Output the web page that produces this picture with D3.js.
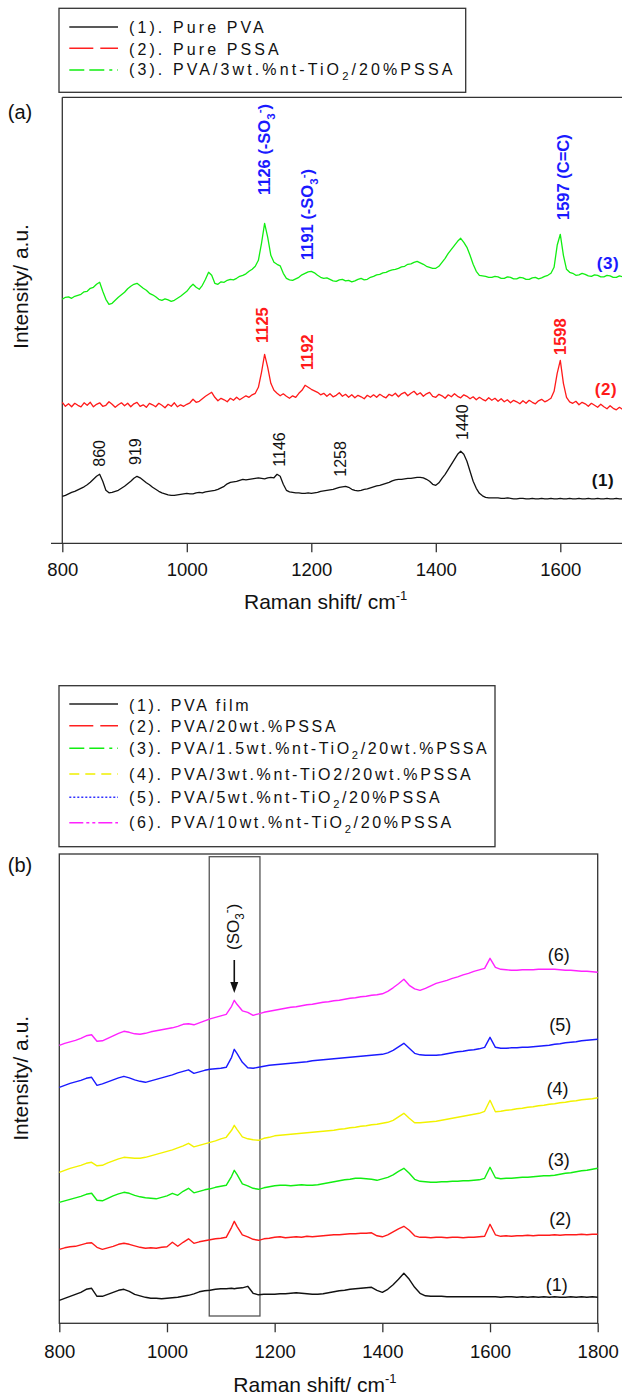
<!DOCTYPE html>
<html>
<head>
<meta charset="utf-8">
<script src="https://cdn.jsdelivr.net/npm/d3@7"></script>
<style>
  html, body { margin: 0; padding: 0; background: #fff; }
  svg { display: block; font-family: "Liberation Sans", Arial, sans-serif; }
</style>
</head>
<body>
<svg id="fig" width="622" height="1399"></svg>
<script>
// ---------- Panel (a): Raman spectra of the pure components ----------
// sampled every 5 cm-1 from 800 to 1700 cm-1
const wavenumberA = d3.range(800, 1701, 5);

const purePVA = [
  47,48,49.5,51,52,53.5,55,56.5,58.5,61,64,67,69,62,53,50.5,51,52,53,55,
  57,59.5,62,65,67,65.5,63,60.5,58.5,56,54,52,50.5,49.5,48.5,48,48,48.5,49,49.5,
  50,49.5,49.5,50.5,51,50.5,51.5,52,52.5,53,54,55.5,57,59.5,61,61.5,62,63,64,63.5,
  64,64.5,65,65.5,65,64.5,65.5,66,65.5,69,67,59,53,51.5,51,50.5,50.5,50,50,50.5,
  50,50.5,51,52,52.5,53,53.5,54,55,56,56.5,57,56,54,53,52.5,53,54,54.5,55.5,
  56.5,57.5,58,59,60,61,62.5,63.5,64,64,64.5,65,65,65.5,66,66,65.5,64,62,59,
  58,60.5,65,69,74,79,84,89,92,89,82,72,62,55,50,47.5,46,45.5,45.5,45.5,
  45.5,45,45,45.5,45,44.5,44.5,45,45,44.5,44.5,45,44.5,44.5,45,44.5,44.5,45,44.5,44.5,
  45,44.5,44.5,45,44.5,44.5,45,44.5,44.5,45,44.5,44.5,45,44.5,44.5,45,44.5,44.5,45,44.5,
  44.5];

const purePSSA = [
  141,137,139.5,136.5,140,138,136.5,140.5,138,141,136.5,139,140.5,137,138,141.5,139,136,138.5,140.5,
  137.5,140,136.5,139.5,141,137,138.5,136,140,138.5,136.5,140,138,135.5,139,137,140.5,136.5,138.5,137,
  139,140.5,144,141,142,144.5,147,149,151,146,142.5,145,143.5,141.5,145,143,146,143.5,145.5,147.5,
  146,148.5,150,156,171,189,176,160,153,150,147.5,149.5,147,145,147.5,146,150,153,158,156,
  154,152.5,151,148.5,150,147,149.5,146.5,148,150.5,147,149,146,148.5,145.5,148,146.5,144.5,148,146,
  148.5,146,149,147,145.5,149,147.5,150,146.5,149.5,151,147.5,150,152,148.5,150.5,147,149.5,151,147,
  146,149,147.5,145,148.5,146.5,149.5,147,145.5,148.5,147,144.5,146.5,143.5,146,144,142.5,145.5,143,145,
  142,144.5,141.5,143.5,140.5,143,141.5,139.5,142.5,140,143,141,139.5,142.5,144,141.5,143,145,152,170,
  183,160,146,141.5,140,142,138.5,141,139.5,137,140,138,136,139,136.5,134.5,137.5,135,133.5,136,
  134];

const compositeA = [
  244,246,246.5,245,247,248,249,251.5,252,255,256,259,261,252,244,239,240,243,246,248.5,
  251,254.5,257,259,260,257.5,255,253,250,248.5,246.5,244,243,244.5,243.5,242,243,245,247,249.5,
  252,256,259,256,254,258,264,271,268,260,259,261.5,261,263,264,263.5,265,267,268,269.5,
  272,274,277,283,300,320,306,288,281,279,277.5,270,265,263.5,263,264.5,266,268.5,270,271.5,
  272,270.5,268,266,265,265.5,264,262.5,262,263.5,264,262.5,263,261.5,262.5,264,265,263.5,264,266,
  267,268.5,269,270.5,271,272.5,273.5,274,275,276.5,277,279,279.5,281,282,280.5,279,277,276,275,
  275,277,281,285,290,294,298,302,305,301,296,288,279,272,268,267.5,267,266,266,267,
  266.5,265,265,266.5,266,264.5,264.5,266,265.5,264,264,265.5,266,264.5,265.5,267,268,270,276,298,
  309,288,274,271,270,268,268.5,270,269,267.5,267,268.5,268,266.5,266.5,268,267.5,266,266,267.5,
  266.5];

// ---------- Panel (b): PVA / nt-TiO2 / PSSA composite films ----------
const wavenumberB = [800,810,820,830,840,850,860,870,880,890,
  900,910,920,930,940,950,960,970,980,990,
  1000,1010,1020,1030,1040,1050,1060,1070,1080,1090,
  1100,1110,1120,1125,1130,1140,1150,1160,1170,1180,
  1190,1200,1210,1220,1230,1240,1250,1260,1270,1280,
  1290,1300,1310,1320,1330,1340,1350,1360,1370,1380,
  1390,1400,1410,1420,1430,1440,1450,1460,1470,1480,
  1490,1500,1510,1520,1530,1540,1550,1560,1570,1580,
  1590,1600,1610,1620,1630,1640,1650,1660,1670,1680,
  1690,1700,1710,1720,1730,1740,1750,1760,1770,1780,
  1790,1800];

const film1 = [23,25,27,29,31,34,35,27,27,29,
  31,33,34,32,29,27.5,26,25,25,24.5,
  25,25.5,26,27,28,29.5,31.5,32.5,33,34,
  34.5,34.5,35,34.5,35,35.5,37,30,28.5,29,
  29,29,29.5,29.5,30,30.5,30,29.5,29,29,
  29.5,30.5,31.5,32.5,33,34,34.5,35,35.5,36,
  33,31,34,38.5,44,50,44,36,30,27.5,
  27,27,27,26.5,26.5,26.5,26.5,26.5,26.5,26.5,
  26.5,26.5,26.5,26,26.5,26.5,26,26.5,26,26.5,
  26,26.5,26,26.5,26,26,26.5,26,26.5,26,
  26.5,26];

const film2 = [74,75.5,76.5,77,78.5,80,80.5,76,74,75.5,
  77,79,80,79,77.5,76,75,75.5,75,76,
  76.5,81,77,81,84.5,80,81.5,82.5,83.5,84.5,
  85,86,96,102,97,88.5,86.5,84,83,84.5,
  85,86,86.5,85.5,86,86.5,86,87,86.5,87,
  87.5,88,88.5,88.5,89,89.5,89.5,90,90,90.5,
  87.5,86.5,88.5,91.5,94.5,97,93,87.5,86,86,
  85.5,86,86,85.5,86,86,85.5,86,86,86.5,
  87,99,88.5,87,87.5,87,87.5,87.5,88,87.5,
  88,88,88,88.5,88,88.5,88.5,88.5,89,88.5,
  89,89];

const film3 = [121,122.5,124,125.5,127,129,130,123,122.5,125,
  127.5,129.5,131,130,128,126.5,125.5,125,124.5,126,
  127.5,130,128,132,135,130.5,132,133.5,134.5,136,
  137,138,147,153,149,139.5,137.5,135,134,135.5,
  136.5,137.5,138,138,137.5,138,138.5,138,138,138.5,
  139.5,140.5,141.5,142.5,143.5,144,145,145,144.5,144,
  143,144.5,146,148.5,152,155,150,144,142,141.5,
  141,141,141.5,141.5,142,142,142.5,142.5,143,143.5,
  145,156,145.5,144.5,145,145,145.5,146,146,146.5,
  147,147.5,147.5,148,149,150,150.5,151.5,152.5,153,
  154,155];

const film4 = [151,153,155,156.5,158,160,161,157.5,158,160.5,
  162.5,164.5,166,165.5,165,165,166,167.5,169,170.5,
  172,173.5,175.5,177.5,180,176.5,178,179.5,181,182.5,
  184.5,186,193,198,194,186.5,184.5,183.5,183,185,
  186,187.5,188,188.5,189,189.5,190,190.5,191,191.5,
  192,192.5,193,194,194.5,195.5,196,197,197.5,198.5,
  199,200,201,203,206.5,210,205,200.5,200.5,201,
  201.5,202,203,204,205,206,207,208,209,210,
  212,223,211.5,212,213,213.5,214.5,215,216,216.5,
  217.5,218,219,219.5,220.5,221,222,222.5,223.5,224,
  224.5,225.5];

const film5 = [236,238,240,241.5,243,245,246,238,239.5,241.5,
  243.5,245.5,247,245.5,243.5,242,241,242.5,244,245.5,
  247,248.5,250.5,252,253.5,250,251.5,253,254,254.5,
  255,256,266,274,270,261,255.5,255,256,257,
  258,258.5,259,259.5,260,260.5,261,261.5,262.5,263,
  263.5,264,264.5,265,265.5,266,266.5,267,267.5,268,
  268.5,269,270.5,273,276.5,280,275,270,268.5,268,
  268,268,268.5,269.5,270.5,271.5,272,273,273.5,274.5,
  276,286,276,275,275,275.5,275.5,276,276,276.5,
  277,277.5,278,279,279.5,280.5,281,281.5,282.5,283,
  283.5,284];

const film6 = [278,280,281.5,283,285,287.5,288.5,282,282.5,285,
  287.5,290,292,291,289.5,289,290,291.5,292.5,293.5,
  294.5,295.5,297,299,299.5,298.5,300.5,302.5,304.5,306,
  307.5,309,317,323,319,312.5,311,308,309.5,311,
  312,313,314,315,316,316.5,317.5,318.5,319,320,
  321,321.5,322.5,323,324,325,325.5,326.5,327,328,
  328.5,329.5,332,335.5,339.5,344,338,334.5,333,335,
  337.5,340,341.5,343,345,346.5,348.5,350,352,353.5,
  355,365,356,354,353.5,353,353,353.5,353.5,353.5,
  354,354,354,354,353.5,353,353,352.5,352,352,
  351.5,351];

const xTicksA = [800, 1000, 1200, 1400, 1600];
const xTicksB = [800, 1000, 1200, 1400, 1600, 1800];

const legendA = ["(1). Pure PVA", "(2). Pure PSSA", "(3). PVA/3wt.%nt-TiO_2/20%PSSA"];
const legendB = ["(1). PVA film", "(2). PVA/20wt.%PSSA", "(3). PVA/1.5wt.%nt-TiO_2/20wt.%PSSA",
  "(4). PVA/3wt.%nt-TiO2/20wt.%PSSA", "(5). PVA/5wt.%nt-TiO_2/20%PSSA", "(6). PVA/10wt.%nt-TiO_2/20%PSSA"];

// peak assignments written along the panel (a) spectra
const peaksComposite = [[1126, "1126 (-SO_3^-)"], [1191, "1191 (-SO_3^-)"], [1597, "1597 (C=C)"]];
const peaksPSSA = [1125, 1192, 1598];
const peaksPVA = [860, 919, 1146, 1258, 1440];

// ---------- drawing ----------
const svg = d3.select("#fig");
const INK = "#111";
const FRAME = "#333";

// writes "_x" as subscript and "^x" as superscript
function rich(text, str, fs) {
  const parts = str.split(/([_^].)/).filter(p => p.length);
  let shift = 0;
  parts.forEach(p => {
    let kind = null, s = p;
    if (p[0] === "_" && p.length === 2) { kind = "sub"; s = p[1]; }
    if (p[0] === "^" && p.length === 2) { kind = "sup"; s = p[1]; }
    const target = kind === "sub" ? 0.3 * fs : kind === "sup" ? -0.42 * fs : 0;
    const ts = text.append("tspan").text(s).attr("font-size", kind ? fs * 0.7 : fs);
    if (target - shift !== 0) ts.attr("dy", target - shift);
    shift = target;
  });
}

function vLabel(g, x, yStart, str, fs, color, weight) {
  const t = g.append("text")
    .attr("transform", `translate(${x + 0.35 * fs},${yStart}) rotate(-90)`)
    .attr("fill", color).attr("font-weight", weight || "normal");
  rich(t, str, fs);
  return t;
}

function legend(g, box, rows, items) {
  g.append("rect").attr("x", box.x).attr("y", box.y).attr("width", box.w).attr("height", box.h)
    .attr("fill", "#fff").attr("stroke", FRAME).attr("stroke-width", 1.3);
  items.forEach((it, i) => {
    const r = rows[i];
    g.append("line").attr("x1", 69.3).attr("x2", 118).attr("y1", r.line).attr("y2", r.line)
      .attr("stroke", it.color).attr("stroke-width", it.w || 1.5)
      .attr("stroke-dasharray", it.dash);
    const t = g.append("text").attr("x", 129).attr("y", r.text).attr("fill", INK)
      .style("letter-spacing", box.ls + "px");
    rich(t, it.label, box.fs);
  });
}

function axisX(g, x, ticks, y0, padding) {
  const ax = g.append("g").attr("transform", `translate(0,${y0})`)
    .call(d3.axisBottom(x).tickValues(ticks).tickSize(9).tickSizeOuter(0)
      .tickPadding(padding).tickFormat(d3.format("d")));
  ax.select(".domain").remove();
  ax.attr("font-family", null).attr("font-size", 18.5);
  ax.selectAll(".tick line").attr("stroke", FRAME).attr("stroke-width", 1.3);
  ax.selectAll(".tick text").attr("fill", INK);
}

function axisTitle(g, x, y) {
  const t = g.append("text").attr("x", x).attr("y", y).attr("fill", INK).attr("font-size", 21);
  t.append("tspan").text("Raman shift/ cm");
  t.append("tspan").text("-1").attr("font-size", 13).attr("dy", -9);
}

// ===== panel (a) =====
const xA = d3.scaleLinear().domain([800, 1800]).range([62.3, 684.8]);
const yA = d3.scaleLinear().domain([0, 446]).range([543.3, 97.3]);
const gA = svg.append("g");

legend(gA, { x: 59, y: 8.3, w: 406.7, h: 84, fs: 16, ls: 3.1 },
  [{ line: 27, text: 33.3 }, { line: 48.3, text: 55 }, { line: 70, text: 75.3 }],
  [{ label: legendA[0], color: "#222", dash: null },
   { label: legendA[1], color: "#ff2020", dash: "24,7" },
   { label: legendA[2], color: "#11ee11", dash: "15,5,15,5,3,5" }]);

gA.append("text").attr("x", 20).attr("y", 118.5).attr("text-anchor", "middle")
  .attr("font-size", 20).attr("fill", INK).text("(a)");

gA.append("line").attr("x1", xA(800)).attr("x2", xA(1800)).attr("y1", yA.range()[1]).attr("y2", yA.range()[1])
  .attr("stroke", FRAME).attr("stroke-width", 1.3);
gA.append("line").attr("x1", xA(800)).attr("x2", xA(800)).attr("y1", yA.range()[1]).attr("y2", yA.range()[0])
  .attr("stroke", FRAME).attr("stroke-width", 1.3);
gA.append("line").attr("x1", 51).attr("x2", xA(1800)).attr("y1", yA.range()[0]).attr("y2", yA.range()[0])
  .attr("stroke", FRAME).attr("stroke-width", 1.3);
axisX(gA, xA, xTicksA, yA.range()[0], 11);
axisTitle(gA, 244, 609);

gA.append("text").attr("transform", `translate(${20.5 + 0.35 * 21},286.5) rotate(-90)`)
  .attr("text-anchor", "middle").attr("font-size", 21).attr("fill", INK).text("Intensity/ a.u.");

const lineA = d3.line().x((d, i) => xA(wavenumberA[i])).y(d => yA(d));
[[purePVA, "#111"], [purePSSA, "#ff1a1a"], [compositeA, "#11ee11"]].forEach(([s, c]) => {
  gA.append("path").attr("d", lineA(s)).attr("fill", "none").attr("stroke", c)
    .attr("stroke-width", 1.3).attr("stroke-linejoin", "round");
});

// peak labels
const compStart = { 1126: 195, 1191: 260, 1597: 220 };
const compDx = { 1126: -1, 1191: 2, 1597: 5 };
peaksComposite.forEach(([v, s]) => vLabel(gA, xA(v) + compDx[v], compStart[v], s, 16.5, "#1a1aff", "bold"));
const pssaStart = { 1125: 343, 1192: 370, 1598: 355 };
const pssaDx = { 1125: -2, 1192: 1, 1598: 1 };
peaksPSSA.forEach(v => vLabel(gA, xA(v) + pssaDx[v], pssaStart[v], String(v), 16.5, "#ff1a1a", "bold"));
const pvaStart = { 860: 466.7, 919: 465, 1146: 466.7, 1258: 476.7, 1440: 440 };
const pvaDx = { 860: -0.5, 919: -1.4, 1146: 1.3, 1258: -7, 1440: 1.6 };
peaksPVA.forEach(v => vLabel(gA, xA(v) + pvaDx[v], pvaStart[v], String(v), 16, INK, "normal"));

[["(3)", 608, 262.7, "#1a1aff"], ["(2)", 606, 389.3, "#ff1a1a"], ["(1)", 603, 480, INK]].forEach(([s, x, y, c]) => {
  gA.append("text").attr("x", x).attr("y", y).attr("dy", "0.35em").attr("text-anchor", "middle")
    .attr("font-size", 17).attr("font-weight", "bold").attr("fill", c).style("letter-spacing", "0.6px").text(s);
});

// ===== panel (b) =====
const xB = d3.scaleLinear().domain([800, 1800]).range([59.3, 597.7]);
const yB = d3.scaleLinear().domain([0, 469.3]).range([1323.3, 854]);
const gB = svg.append("g");

legend(gB, { x: 59, y: 685.7, w: 436, h: 161, fs: 16, ls: 2.65 },
  [{ line: 704, text: 711 }, { line: 725.7, text: 732.3 }, { line: 748.3, text: 754 },
   { line: 774, text: 780 }, { line: 797.3, text: 803.3 }, { line: 822.7, text: 828.3 }],
  [{ label: legendB[0], color: "#222", dash: null },
   { label: legendB[1], color: "#ff2020", dash: "24,7" },
   { label: legendB[2], color: "#11ee11", dash: "15,5,15,5,3,5" },
   { label: legendB[3], color: "#f0f000", dash: "10,6" },
   { label: legendB[4], color: "#3030ff", dash: "2,2" },
   { label: legendB[5], color: "#ff22ff", dash: "14,3,3,3,3,3" }]);

gB.append("text").attr("x", 20).attr("y", 872).attr("text-anchor", "middle")
  .attr("font-size", 20).attr("fill", INK).text("(b)");

gB.append("rect").attr("x", xB(800)).attr("y", yB.range()[1])
  .attr("width", xB(1800) - xB(800)).attr("height", yB.range()[0] - yB.range()[1])
  .attr("fill", "none").attr("stroke", FRAME).attr("stroke-width", 1.3);
axisX(gB, xB, xTicksB, yB.range()[0], 13);
axisTitle(gB, 233.3, 1391.7);

gB.append("text").attr("transform", `translate(${20.5 + 0.35 * 21},1078.3) rotate(-90)`)
  .attr("text-anchor", "middle").attr("font-size", 21).attr("fill", INK).text("Intensity/ a.u.");

// sulfonate band window
const bandSO3 = [1078.5, 1172.7];
gB.append("rect").attr("x", xB(bandSO3[0])).attr("y", 856.7)
  .attr("width", xB(bandSO3[1]) - xB(bandSO3[0])).attr("height", 1316 - 856.7)
  .attr("fill", "none").attr("stroke", "#555").attr("stroke-width", 1.3);

const lineB = d3.line().x((d, i) => xB(wavenumberB[i])).y(d => yB(d));
[[film1, "#111"], [film2, "#ff1a1a"], [film3, "#11ee11"], [film4, "#f2f200"], [film5, "#1a1aff"], [film6, "#ff22ff"]]
  .forEach(([s, c]) => {
    gB.append("path").attr("d", lineB(s)).attr("fill", "none").attr("stroke", c)
      .attr("stroke-width", 1.4).attr("stroke-linejoin", "round");
  });

// arrow + label on the 1125 band
const xArrow = xB(1125);
gB.append("line").attr("x1", xArrow).attr("x2", xArrow).attr("y1", 960).attr("y2", 984)
  .attr("stroke", INK).attr("stroke-width", 1.6);
gB.append("path").attr("d", `M${xArrow - 4},982 L${xArrow + 4},982 L${xArrow},993 Z`).attr("fill", INK);
vLabel(gB, 238 - 0.35 * 17 + 0.5, 950, "(SO_3^-)", 17, INK, "normal");

[["(6)", 558.7, 955], ["(5)", 560.3, 1025], ["(4)", 557.5, 1088.3],
 ["(3)", 558.7, 1159.3], ["(2)", 560.3, 1218.3], ["(1)", 556.7, 1285]].forEach(([s, x, y]) => {
  gB.append("text").attr("x", x).attr("y", y).attr("dy", "0.35em").attr("text-anchor", "middle")
    .attr("font-size", 18).attr("fill", INK).text(s);
});
</script>
</body>
</html>
